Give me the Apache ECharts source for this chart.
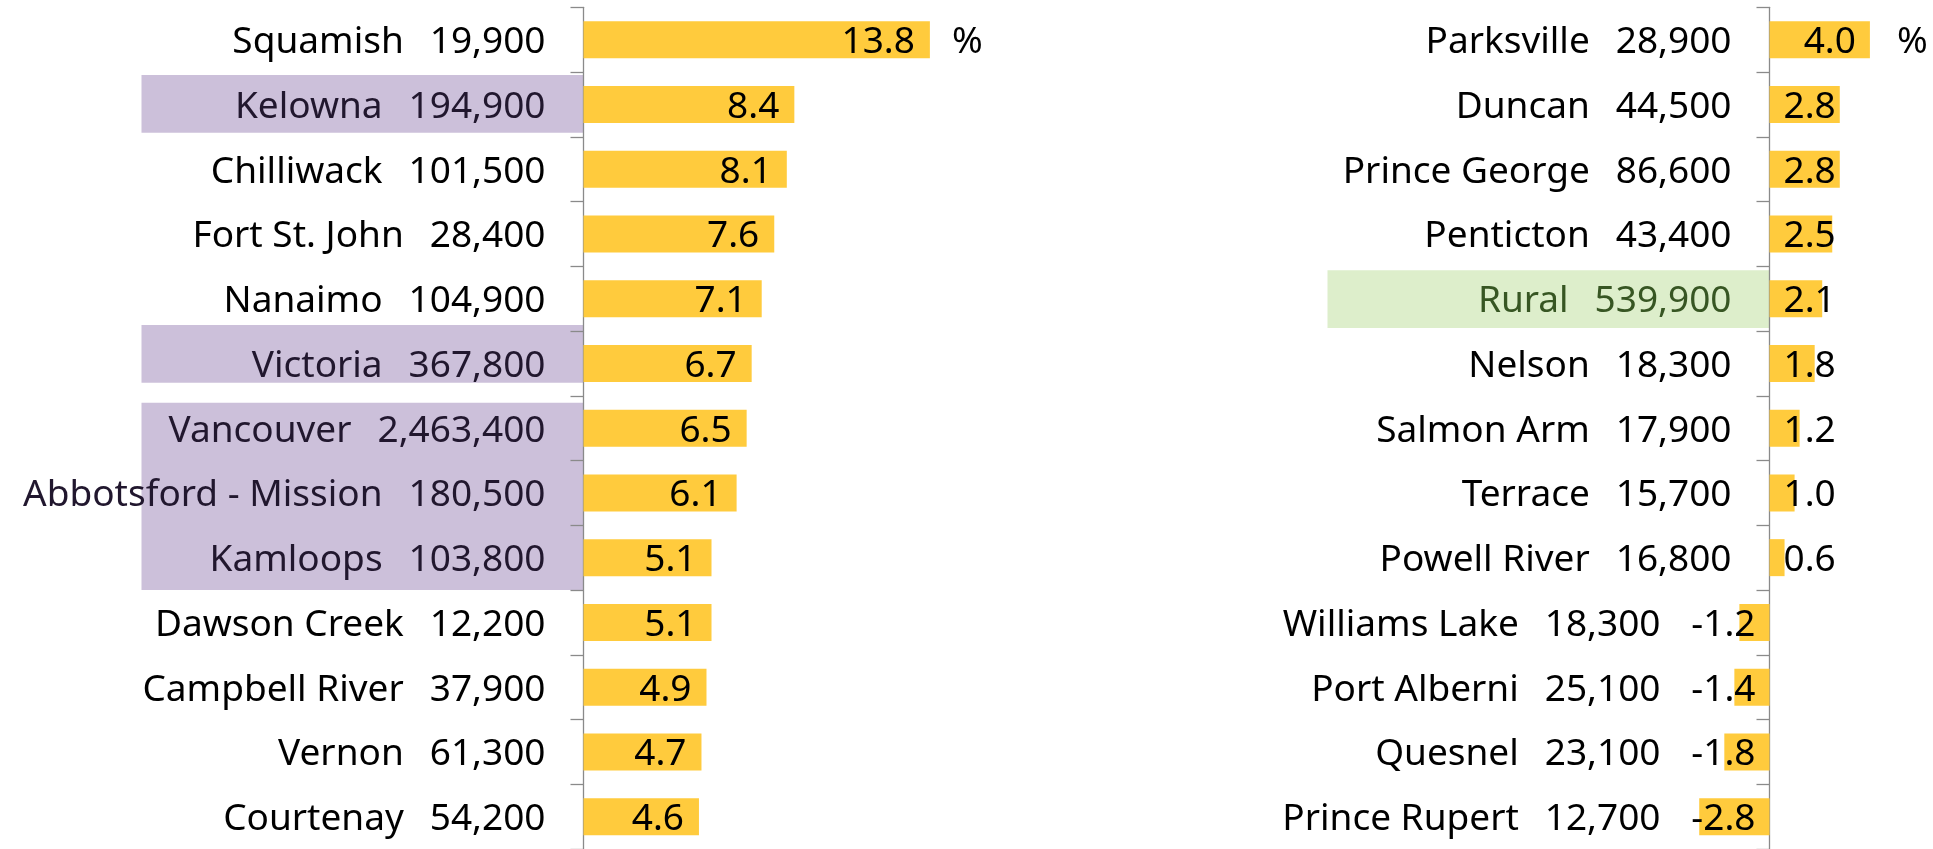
<!DOCTYPE html>
<html>
<head>
<meta charset="utf-8">
<title>Population change by area</title>
<script src="https://cdn.jsdelivr.net/npm/echarts@6/dist/echarts.min.js"></script>
<style>
    html, body { margin: 0; padding: 0; background: #fff; }
    #main { width: 1933px; height: 849px; }
</style>
</head>
<body>
<div id="main"></div>
<script>
"use strict";

// left panel
var leftNames = ['Squamish', 'Kelowna', 'Chilliwack', 'Fort St. John', 'Nanaimo', 'Victoria', 'Vancouver',
    'Abbotsford - Mission', 'Kamloops', 'Dawson Creek', 'Campbell River', 'Vernon', 'Courtenay'];
var leftPop = ['19,900', '194,900', '101,500', '28,400', '104,900', '367,800', '2,463,400',
    '180,500', '103,800', '12,200', '37,900', '61,300', '54,200'];
var leftChange = [13.8, 8.4, 8.1, 7.6, 7.1, 6.7, 6.5, 6.1, 5.1, 5.1, 4.9, 4.7, 4.6];
// highlighted groups, one box each
var leftGroups = [['Kelowna'], ['Victoria'], ['Vancouver', 'Abbotsford - Mission', 'Kamloops']];

// right panel
var rightNames = ['Parksville', 'Duncan', 'Prince George', 'Penticton', 'Rural', 'Nelson', 'Salmon Arm',
    'Terrace', 'Powell River', 'Williams Lake', 'Port Alberni', 'Quesnel', 'Prince Rupert'];
var rightPop = ['28,900', '44,500', '86,600', '43,400', '539,900', '18,300', '17,900',
    '15,700', '16,800', '18,300', '25,100', '23,100', '12,700'];
var rightChange = [4.0, 2.8, 2.8, 2.5, 2.1, 1.8, 1.2, 1.0, 0.6, -1.2, -1.4, -1.8, -2.8];
var rightGroups = [['Rural']];

// styles
var FONT = 'Noto Sans';
var FS = 37;
var TEXT_DY = 3;
var BAR = '#FFCB3D';
var AXIS = '#8a8a8a';
var PURPLE = '#CCC0DA', PURPLE_TEXT = '#21172e';
var GREEN = '#DDEECB', GREEN_TEXT = '#375623';
var BOX_W = 442;
// top / bottom inset of each highlight box, px
var leftBoxInsets = [[3, 4], [-6, 13], [7, 0]];
var rightBoxInsets = [[4, 3]];
var PX_PER_UNIT = 25.1;
var RIGHT_MIN = -4, RIGHT_MAX = 6;

var chart = echarts.init(document.getElementById('main'));

function flat(groups) {
    return groups.reduce(function (a, g) { return a.concat(g); }, []);
}

function richStyles() {
    var pad = [0, 0, 0, 26];
    return {
        n: { fontFamily: FONT, fontSize: FS, color: '#000' },
        p: { fontFamily: FONT, fontSize: FS, color: '#000', padding: pad },
        pn: { fontFamily: FONT, fontSize: FS, color: '#000', padding: [0, 71, 0, 26] },
        hn: { fontFamily: FONT, fontSize: FS, color: PURPLE_TEXT },
        hp: { fontFamily: FONT, fontSize: FS, color: PURPLE_TEXT, padding: pad },
        gn: { fontFamily: FONT, fontSize: FS, color: GREEN_TEXT },
        gp: { fontFamily: FONT, fontSize: FS, color: GREEN_TEXT, padding: pad }
    };
}

function catLabel(pops, values, highlight, prefix) {
    return function (value, index) {
        var n = 'n', p = values[index] < 0 ? 'pn' : 'p';
        if (highlight.indexOf(value) !== -1) { n = prefix + 'n'; p = prefix + 'p'; }
        return '{' + n + '|' + value + '}{' + p + '|' + pops[index] + '}';
    };
}

function yAxisOf(gridIndex, names, pops, values, groups, prefix, offset) {
    return {
        type: 'category',
        gridIndex: gridIndex,
        inverse: true,
        data: names,
        position: 'left',
        offset: offset,
        axisLine: { show: true, onZero: false, lineStyle: { color: AXIS, width: 1.3 } },
        axisTick: { show: true, length: 13, lineStyle: { color: AXIS, width: 1.3 } },
        splitLine: { show: false },
        axisLabel: {
            margin: 38,
            padding: [TEXT_DY * 2, 0, 0, 0],
            formatter: catLabel(pops, values, flat(groups), prefix),
            rich: richStyles()
        }
    };
}

// short positive bars get the label from the base, like Excel does
function barData(values) {
    return values.map(function (v) {
        var pos = 'insideRight';
        if (v > 0 && v * PX_PER_UNIT < 88) pos = 'insideLeft';
        return { value: v, label: { position: pos } };
    });
}

function barSeries(idx, values, dist) {
    return {
        type: 'bar', xAxisIndex: idx, yAxisIndex: idx,
        data: barData(values),
        barWidth: 37,
        itemStyle: { color: BAR },
        label: {
            show: true, distance: dist, offset: [0, TEXT_DY],
            fontFamily: FONT, fontSize: FS, color: '#000',
            formatter: function (p) { return p.value.toFixed(1); }
        }
    };
}

var option = {
    animation: false,
    backgroundColor: '#fff',
    grid: [
        { left: 583.5, top: 7.3, width: 14 * PX_PER_UNIT, height: 845 },
        { left: 1769.5 + RIGHT_MIN * PX_PER_UNIT, top: 7.3, width: (RIGHT_MAX - RIGHT_MIN) * PX_PER_UNIT, height: 845 }
    ],
    xAxis: [
        { type: 'value', gridIndex: 0, min: 0, max: 14, show: false },
        { type: 'value', gridIndex: 1, min: RIGHT_MIN, max: RIGHT_MAX, show: false }
    ],
    yAxis: [
        yAxisOf(0, leftNames, leftPop, leftChange, leftGroups, 'h', 0),
        // put the right axis on the zero line, labels included
        yAxisOf(1, rightNames, rightPop, rightChange, rightGroups, 'g', RIGHT_MIN * PX_PER_UNIT)
    ],
    series: [
        barSeries(0, leftChange, 15),
        barSeries(1, rightChange, 14)
    ]
};

chart.setOption(option);

// highlight boxes behind the labels, and the "%" units
function boxes(idx, names, groups, insets, color) {
    var axisX = chart.convertToPixel({ xAxisIndex: idx }, 0);
    var band = Math.abs(chart.convertToPixel({ yAxisIndex: idx }, names[1]) -
        chart.convertToPixel({ yAxisIndex: idx }, names[0]));
    return groups.map(function (g, k) {
        var top = chart.convertToPixel({ yAxisIndex: idx }, g[0]) - band / 2 + insets[k][0];
        var bottom = chart.convertToPixel({ yAxisIndex: idx }, g[g.length - 1]) + band / 2 - insets[k][1];
        return {
            type: 'rect', z: -1, silent: true,
            shape: { x: axisX - BOX_W, y: top, width: BOX_W, height: bottom - top },
            style: { fill: color }
        };
    });
}

function unit(idx, names, values, gap) {
    return {
        type: 'text', z: 5, silent: true,
        x: chart.convertToPixel({ xAxisIndex: idx }, values[0]) + gap,
        y: chart.convertToPixel({ yAxisIndex: idx }, names[0]) + TEXT_DY,
        style: { text: '%', fontFamily: FONT, fontSize: FS, fill: '#000', verticalAlign: 'middle' }
    };
}

chart.setOption({
    graphic: []
        .concat(boxes(0, leftNames, leftGroups, leftBoxInsets, PURPLE))
        .concat(boxes(1, rightNames, rightGroups, rightBoxInsets, GREEN))
        .concat([unit(0, leftNames, leftChange, 22), unit(1, rightNames, rightChange, 27)])
});
</script>
</body>
</html>
